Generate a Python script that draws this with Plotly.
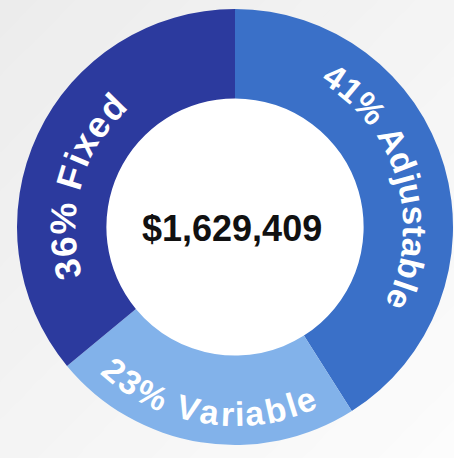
import math
import plotly.graph_objects as go

# ---- data ----
labels = ["Adjustable", "Variable", "Fixed"]
shares = [41, 23, 36]
total_label = "$1,629,409"

# ---- style ----
colors = ["#3a70c8", "#82b2ea", "#2c3a9e"]
W, H = 454, 458
cx, cy, R = 235, 227, 218
HOLE = 0.59
FONT = "Liberation Sans, Arial, Helvetica, sans-serif"
# per-label text styling: (radius px, font size, extra letter spacing px, angle offset deg)
label_style = {
    "Adjustable": (180, 34, 1.5, 0.0),
    "Variable": (187, 34, 1.2, 0.0),
    "Fixed": (172, 36, 2.5, -10.0),
}
# Arial Bold advance widths (per 1000 em)
ADV = {c: 556 for c in "0123456789"}
ADV.update({"%": 889, " ": 278, "A": 722, "d": 611, "j": 278, "u": 611, "s": 556,
            "t": 333, "a": 556, "b": 611, "l": 278, "e": 556, "V": 667, "r": 389,
            "i": 278, "F": 611, "x": 556})

fig = go.Figure()

# subtle diagonal background gradient
nb = 24
c0, c1 = (236, 236, 236), (252, 252, 252)
for k in range(nb):
    t0, t1 = k / nb * 2, (k + 1) / nb * 2
    col = tuple(round(c0[j] + (c1[j] - c0[j]) * (k + 0.5) / nb) for j in range(3))
    path = f"M {t0} 1 L {t1 + 0.01} 1 L {t1 - 1 + 0.01} 0 L {t0 - 1} 0 Z"
    fig.add_shape(type="path", path=path, xref="paper", yref="paper",
                  fillcolor=f"rgb{col}", line=dict(width=0), layer="below")

# white hole
rh = HOLE * R + 3
fig.add_shape(type="circle", xref="paper", yref="paper",
              x0=(cx - rh) / W, x1=(cx + rh) / W,
              y0=1 - (cy + rh) / H, y1=1 - (cy - rh) / H,
              fillcolor="white", line=dict(width=0), layer="below")

fig.add_trace(go.Pie(
    labels=labels,
    values=shares,
    sort=False,
    direction="clockwise",
    rotation=0,
    hole=HOLE,
    marker=dict(colors=colors, line=dict(width=0)),
    textinfo="none",
    showlegend=False,
    hoverinfo="skip",
    domain=dict(x=[(cx - R) / W, (cx + R) / W], y=[(H - cy - R) / H, (H - cy + R) / H]),
))

# curved labels, placed along the ring from the slice angles
tot = sum(shares)
start = 0.0
for lab, v in zip(labels, shares):
    span_deg = v / tot * 360
    mid = start + span_deg / 2
    start += span_deg
    r, fs, sp, off = label_style[lab]
    mid += off
    text = f"{v}% {lab}"
    widths = [ADV[c] / 1000 * fs for c in text]
    total_w = sum(widths) + sp * (len(text) - 1)
    arc = math.degrees(total_w / r)
    bottom = 90 < (mid % 360) < 270
    pos = 0.0
    for c, w in zip(text, widths):
        center = pos + w / 2
        pos += w + sp
        if c == " ":
            continue
        d = math.degrees(center / r)
        if bottom:
            th = mid + arc / 2 - d
            ang = th - 180
        else:
            th = mid - arc / 2 + d
            ang = th
        ang = (ang + 180) % 360 - 180
        tr = math.radians(th)
        x = cx + r * math.sin(tr)
        y = cy - r * math.cos(tr)
        fig.add_annotation(text=f"<b>{c}</b>", x=x / W, y=1 - y / H, xref="paper", yref="paper",
                           showarrow=False, textangle=ang, xanchor="center", yanchor="middle",
                           font=dict(family=FONT, size=fs, color="white"))

fig.add_annotation(
    text=f"<b>{total_label}</b>", x=232 / W, y=1 - 228 / H, xref="paper", yref="paper",
    showarrow=False, font=dict(family=FONT, size=36, color="#111111"),
)

fig.update_layout(
    width=W, height=H,
    margin=dict(l=0, r=0, t=0, b=0),
    paper_bgcolor="#f3f3f3",
    plot_bgcolor="#f3f3f3",
)

fig.write_html("out.html", config={"displayModeBar": False},
               post_script="document.body.style.margin='0px';")
